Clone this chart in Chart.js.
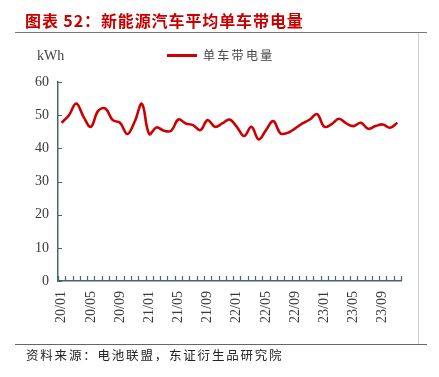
<!DOCTYPE html>
<html>
<head>
<meta charset="utf-8">
<script src="https://cdn.jsdelivr.net/npm/chart.js"></script>
<style>
  html, body { margin: 0; padding: 0; background: #fff; }
  #wrap { position: relative; width: 439px; height: 377px; overflow: hidden; }
  #c { position: absolute; left: 0; top: 0; }
  .txt { position: absolute; white-space: nowrap; }
  #title { left: 25px; top: 9px; font: bold 16px "Noto Sans CJK SC", sans-serif; color: #c80000; letter-spacing: 0.9px; line-height: 22px; }
  #src { left: 26px; top: 346px; font: 12.5px "Noto Sans CJK SC", sans-serif; color: #222; letter-spacing: 1.8px; line-height: 18px; }
  #unit { left: 37px; top: 47px; font: 14px "Liberation Serif", serif; color: #444; line-height: 18px; }
  #leg { left: 203px; top: 46px; font: 12px "Noto Sans CJK SC", sans-serif; color: #444; letter-spacing: 2.3px; line-height: 18px; }
  .rule { position: absolute; }
</style>
</head>
<body>
<div id="wrap">
  <canvas id="c" width="439" height="377"></canvas>
  <div class="rule" style="left:15px;top:32px;width:412px;height:1px;background:#777;"></div>
  <div class="rule" style="left:418px;top:33px;width:1px;height:311px;background:#ccc;"></div>
  <div class="rule" style="left:15px;top:344px;width:412px;height:1px;background:#666;"></div>
  <div class="rule" style="left:167px;top:54px;width:30px;height:2.5px;background:#cc0000;"></div>
  <div id="title" class="txt">图表 52：新能源汽车平均单车带电量</div>
  <div id="unit" class="txt">kWh</div>
  <div id="leg" class="txt">单车带电量</div>
  <div id="src" class="txt">资料来源：电池联盟，东证衍生品研究院</div>
</div>
<script>
// 月份
const months = [
  '20/01','20/02','20/03','20/04','20/05','20/06','20/07','20/08','20/09','20/10','20/11','20/12',
  '21/01','21/02','21/03','21/04','21/05','21/06','21/07','21/08','21/09','21/10','21/11','21/12',
  '22/01','22/02','22/03','22/04','22/05','22/06','22/07','22/08','22/09','22/10','22/11','22/12',
  '23/01','23/02','23/03','23/04','23/05','23/06','23/07','23/08','23/09','23/10','23/11'
];

// 单车带电量 (kWh)
const kwhPerCar = [
  47.7, 50.0, 53.5, 49.5, 46.5, 51.3, 52.0, 48.5, 47.7, 44.3, 48.0, 53.4,
  44.3, 46.3, 45.3, 45.3, 48.7, 47.5, 47.0, 45.5, 48.5, 46.5, 47.5, 48.7,
  46.5, 43.7, 46.5, 42.7, 45.5, 48.2, 44.5, 44.7, 46.0, 47.5, 48.7, 50.3,
  46.5, 47.3, 48.9, 47.5, 46.7, 47.7, 45.9, 46.7, 47.2, 46.2, 47.7
];

const yTicks = [0, 10, 20, 30, 40, 50, 60];

const axisColor = '#4a6767';

// 向内的刻度线
const innerTicks = {
  id: 'innerTicks',
  afterDraw(chart) {
    const ctx = chart.ctx;
    const area = chart.chartArea;
    const xs = chart.scales.x;
    const ys = chart.scales.y;
    ctx.save();
    ctx.strokeStyle = axisColor;
    ctx.lineWidth = 1.2;
    ctx.beginPath();
    yTicks.forEach(v => {
      const y = Math.round(ys.getPixelForValue(v)) + 0.5;
      ctx.moveTo(area.left, y);
      ctx.lineTo(area.left + 4, y);
    });
    for (let i = 0; i <= months.length; i++) {
      const x = Math.round(xs.getPixelForValue(i - 0.5)) + 0.5;
      ctx.moveTo(x, area.bottom);
      ctx.lineTo(x, area.bottom - 5);
    }
    ctx.stroke();
    ctx.restore();
  }
};

new Chart(document.getElementById('c'), {
  type: 'line',
  data: {
    labels: months,
    datasets: [{
      label: '单车带电量',
      data: kwhPerCar,
      borderColor: '#cc0000',
      borderWidth: 2.6,
      pointRadius: 0,
      tension: 0.4,
      fill: false
    }]
  },
  options: {
    responsive: false,
    animation: false,
    devicePixelRatio: 1,
    layout: { padding: { top: 82, right: 38, bottom: 0, left: 0 } },
    plugins: {
      legend: { display: false },
      tooltip: { enabled: false }
    },
    scales: {
      x: {
        offset: true,
        grid: { display: false, drawTicks: false },
        border: { display: true, color: axisColor, width: 1.5 },
        ticks: {
          autoSkip: false,
          minRotation: 90,
          maxRotation: 90,
          padding: 10,
          color: '#3a3a3a',
          font: { family: 'Liberation Serif', size: 14 },
          callback: function(val, idx) {
            return idx % 4 === 0 ? months[idx] : '';
          }
        },
        afterFit: s => { s.height = 96; }
      },
      y: {
        min: 0,
        max: 60,
        grid: { display: false, drawTicks: false },
        border: { display: true, color: axisColor, width: 1.5 },
        ticks: {
          stepSize: 10,
          padding: 9,
          color: '#3a3a3a',
          font: { family: 'Liberation Serif', size: 14 }
        },
        afterFit: s => { s.width = 58; }
      }
    }
  },
  plugins: [innerTicks]
});
</script>
</body>
</html>
